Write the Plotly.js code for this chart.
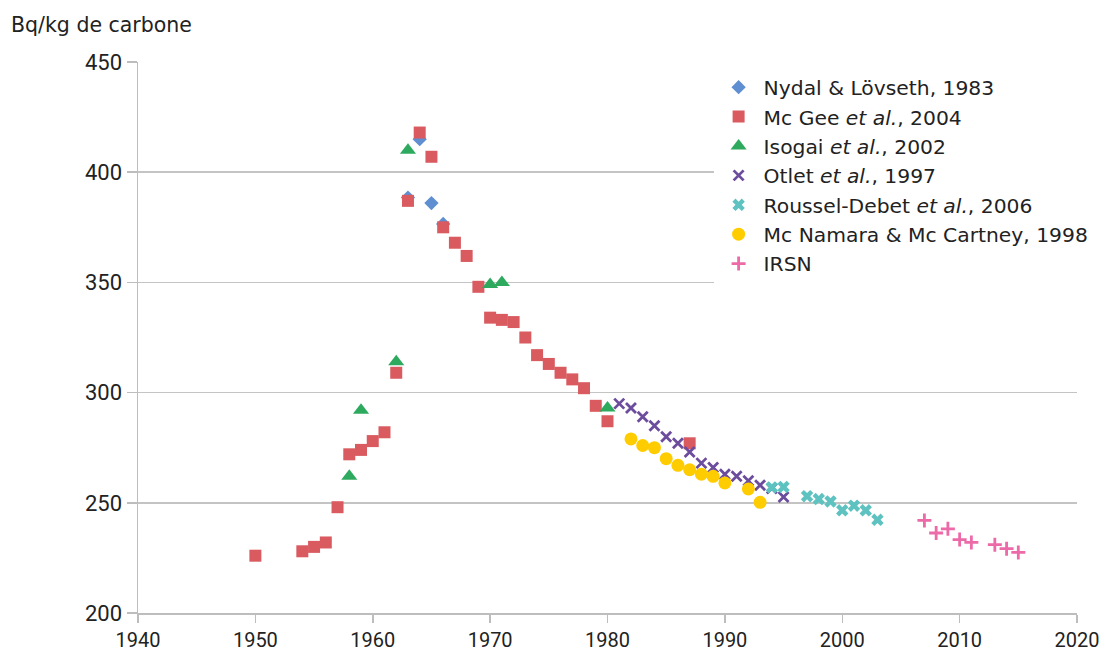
<!DOCTYPE html>
<html>
<head>
<meta charset="utf-8">
<script src="https://cdn.plot.ly/plotly-3.0.1.min.js"></script>
<style>html,body{margin:0;padding:0;background:#fff;}#chart{width:1106px;height:652px;}</style>
</head>
<body>
<div id="chart"></div>
<script>
// Nydal & Lövseth, 1983
const nydalYears = [1963, 1964, 1965, 1966];
const nydalValues = [388.5, 415, 386, 376.5];
// Mc Gee et al., 2004
const mcgeeYears = [1950, 1954, 1955, 1956, 1957, 1958, 1959, 1960, 1961, 1962, 1963, 1964, 1965, 1966, 1967, 1968, 1969, 1970, 1971, 1972, 1973, 1974, 1975, 1976, 1977, 1978, 1979, 1980, 1987];
const mcgeeValues = [226, 228, 230, 232, 248, 272, 274, 278, 282, 309, 387, 418, 407, 375, 368, 362, 348, 334, 333, 332, 325, 317, 313, 309, 306, 302, 294, 287, 277];
// Isogai et al., 2002
const isogaiYears = [1958, 1959, 1962, 1963, 1970, 1971, 1980];
const isogaiValues = [262, 292, 314, 410, 349, 350, 293];
// Otlet et al., 1997
const otletYears = [1981, 1982, 1983, 1984, 1985, 1986, 1987, 1988, 1989, 1990, 1991, 1992, 1993, 1994, 1995];
const otletValues = [295, 293, 289, 285, 280, 277, 273, 268, 266, 263, 262, 260, 258, 256.5, 252.6];
// Roussel-Debet et al., 2006
const rousselYears = [1994, 1995, 1997, 1998, 1999, 2000, 2001, 2002, 2003];
const rousselValues = [257, 257.2, 253, 251.7, 250.6, 246.6, 248.7, 246.6, 242.3];
// Mc Namara & Mc Cartney, 1998
const mcnamaraYears = [1982, 1983, 1984, 1985, 1986, 1987, 1988, 1989, 1990, 1992, 1993];
const mcnamaraValues = [279, 276, 275, 270, 267, 265, 263, 262, 259, 256.3, 250.2];
// IRSN
const irsnYears = [2007, 2008, 2009, 2010, 2011, 2013, 2014, 2015];
const irsnValues = [242, 236.3, 238.2, 233.3, 232, 231, 229.2, 227.5];

const xTicks = [1940, 1950, 1960, 1970, 1980, 1990, 2000, 2010, 2020];
const yTicks = [200, 250, 300, 350, 400, 450];

const FONT = 'Roboto, "DejaVu Sans", sans-serif';
const FONT2 = '"DejaVu Sans", Roboto, sans-serif';

const traces = [
  {name: 'Nydal &amp; Lövseth, 1983', x: nydalYears, y: nydalValues, type: 'scatter', mode: 'markers',
   marker: {symbol: 'diamond', size: 11, color: '#5f8fd0'}},
  {name: 'Mc Gee <i>et al.</i>, 2004', x: mcgeeYears, y: mcgeeValues, type: 'scatter', mode: 'markers',
   marker: {symbol: 'square', size: 12, color: '#d95b60'}},
  {name: 'Isogai <i>et al.</i>, 2002', x: isogaiYears, y: isogaiValues, type: 'scatter', mode: 'markers',
   marker: {symbol: 'triangle-up', size: 14, color: '#2eaa5f'}},
  {name: 'Otlet <i>et al.</i>, 1997', x: otletYears, y: otletValues, type: 'scatter', mode: 'markers',
   marker: {symbol: 'x-thin-open', size: 10, color: '#6c4d9d', line: {width: 2.8, color: '#6c4d9d'}}},
  {name: 'Roussel-Debet <i>et al.</i>, 2006', x: rousselYears, y: rousselValues, type: 'scatter', mode: 'markers',
   marker: {symbol: 'x', size: 11, color: '#5ec3c0'}},
  {name: 'Mc Namara &amp; Mc Cartney, 1998', x: mcnamaraYears, y: mcnamaraValues, type: 'scatter', mode: 'markers',
   marker: {symbol: 'circle', size: 13, color: '#ffcc00'}},
  {name: 'IRSN', x: irsnYears, y: irsnValues, type: 'scatter', mode: 'markers',
   marker: {symbol: 'cross-thin-open', size: 10, color: '#ec6aa8', line: {width: 2.8, color: '#ec6aa8'}}}
];

const layout = {
  width: 1106, height: 652,
  margin: {l: 138, r: 29, t: 62, b: 39},
  paper_bgcolor: '#fff', plot_bgcolor: '#fff',
  font: {family: FONT, size: 22, color: '#222'},
  showlegend: true,
  legend: {x: 0.613, y: 0.99, xanchor: 'left', yanchor: 'top', bgcolor: '#fff',
           font: {family: FONT2, size: 20.3, color: '#222'}, itemwidth: 40, tracegroupgap: 0},
  xaxis: {range: [1940, 2020], tickvals: xTicks, ticktext: xTicks.map(String),
          showgrid: false, zeroline: false, showline: true, linecolor: '#bdbdbd', linewidth: 1.5,
          ticks: 'outside', ticklen: 8, tickwidth: 1.5, tickcolor: '#bdbdbd',
          tickfont: {family: FONT, size: 20, color: '#222'}},
  yaxis: {range: [200, 450], tickvals: yTicks, ticktext: yTicks.map(String),
          showgrid: true, gridcolor: '#c4c4c4', gridwidth: 1.5, zeroline: false,
          showline: true, linecolor: '#bdbdbd', linewidth: 1.5,
          ticks: 'outside', ticklen: 10, tickwidth: 1.5, tickcolor: '#bdbdbd',
          tickfont: {family: FONT, size: 22, color: '#222'}},
  annotations: [{text: 'Bq/kg de carbone', xref: 'paper', yref: 'paper', x: -0.137, y: 1.068,
                 xanchor: 'left', yanchor: 'middle', showarrow: false,
                 font: {family: FONT2, size: 20.5, color: '#222'}}]
};

Plotly.newPlot('chart', traces, layout, {displayModeBar: false, staticPlot: true});
</script>
</body>
</html>
